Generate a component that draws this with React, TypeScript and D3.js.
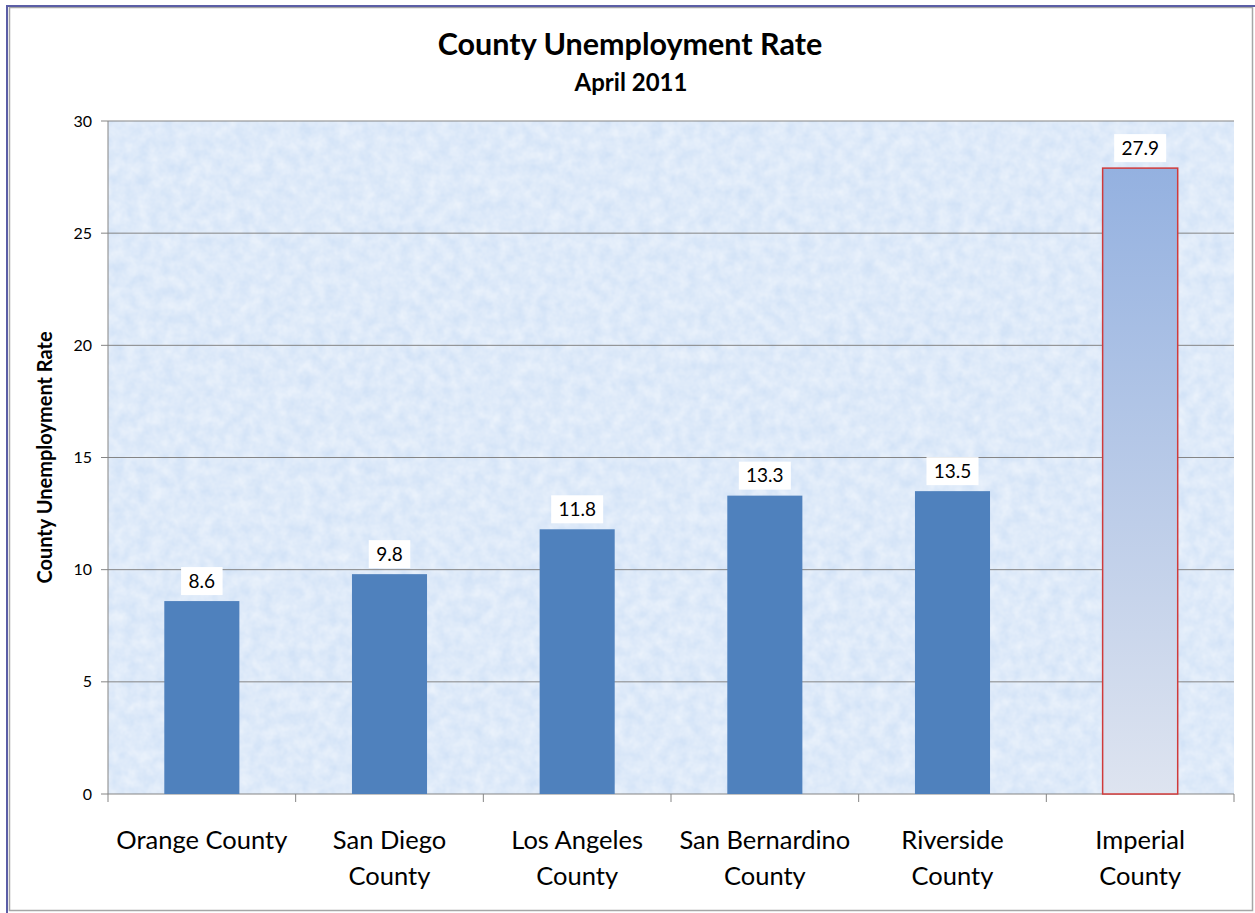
import React from "react";
import * as d3 from "d3";

const categories: string[][] = [
  ["Orange County"],
  ["San Diego", "County"],
  ["Los Angeles", "County"],
  ["San Bernardino", "County"],
  ["Riverside", "County"],
  ["Imperial", "County"],
];
const values: number[] = [8.6, 9.8, 11.8, 13.3, 13.5, 27.9];
const yTicks: number[] = [0, 5, 10, 15, 20, 25, 30];
const title = "County Unemployment Rate";
const subtitle = "April 2011";
const yTitle = "County Unemployment Rate";

const W = 1255;
const H = 913;
const plot = { left: 108, right: 1234, top: 121, bottom: 794 };
const FONT = "Lato, 'Open Sans', sans-serif";

export default function App() {
  const x = d3
    .scaleBand<number>()
    .domain(values.map((_, i) => i))
    .range([plot.left, plot.right])
    .paddingInner(0.6)
    .paddingOuter(0.3);
  const band = (plot.right - plot.left) / values.length;
  const y = d3.scaleLinear().domain([0, 30]).range([plot.bottom, plot.top]);
  const last = values.length - 1;

  return (
    <svg
      width={W}
      height={H}
      style={{ position: "absolute", left: 0, top: 0, background: "#fff" }}
    >
      <defs>
        <linearGradient id="imp" x1="0" y1="0" x2="0" y2="1">
          <stop offset="0" stopColor="#94B1E0" />
          <stop offset="1" stopColor="#DEE4F0" />
        </linearGradient>
        <filter id="tex" x="0" y="0" width="100%" height="100%">
          <feTurbulence type="fractalNoise" baseFrequency="0.08" numOctaves="3" seed="3" />
          <feColorMatrix
            type="matrix"
            values="0 0 0 0 1  0 0 0 0 1  0 0 0 0 1  0 0 0 0.7 -0.1"
          />
          <feComposite in2="SourceGraphic" operator="in" />
        </filter>
      </defs>

      {/* frame */}
      <rect x={9.5} y={7.5} width={1243} height={903} fill="#fff" stroke="#A6A6A6" strokeWidth={1.5} />
      <line x1={6} y1={6} x2={W} y2={6} stroke="#5B5EA6" strokeWidth={2} />
      <line x1={7} y1={6} x2={7} y2={H} stroke="#5B5EA6" strokeWidth={2} />

      {/* title */}
      <text x={630} y={55} textAnchor="middle" fontFamily={FONT} fontWeight="bold" fontSize={30.5} fill="#000">
        {title}
      </text>
      <text x={631} y={91} textAnchor="middle" fontFamily={FONT} fontWeight="bold" fontSize={24} fill="#000">
        {subtitle}
      </text>

      {/* plot background */}
      <rect x={plot.left} y={plot.top} width={plot.right - plot.left} height={plot.bottom - plot.top} fill="#D3E3F7" />
      <rect
        x={plot.left}
        y={plot.top}
        width={plot.right - plot.left}
        height={plot.bottom - plot.top}
        fill="#D3E3F7"
        filter="url(#tex)"
      />

      {/* gridlines */}
      {yTicks.map((t) => (
        <line
          key={"g" + t}
          x1={plot.left - 7}
          x2={plot.right}
          y1={y(t)}
          y2={y(t)}
          stroke="#858585"
          strokeWidth={1}
        />
      ))}
      {/* y axis */}
      <line x1={plot.left} x2={plot.left} y1={plot.top} y2={plot.bottom} stroke="#858585" />
      {yTicks.map((t) => (
        <text
          key={"yt" + t}
          x={92}
          y={y(t)}
          dy="0.35em"
          textAnchor="end"
          fontFamily={FONT}
          fontSize={16}
          fill="#000"
        >
          {t}
        </text>
      ))}
      <text
        transform={`translate(52,${(plot.top + plot.bottom) / 2}) rotate(-90)`}
        textAnchor="middle"
        fontFamily={FONT}
        fontWeight="bold"
        fontSize={20}
        fill="#000"
      >
        {yTitle}
      </text>

      {/* x ticks */}
      {d3.range(values.length + 1).map((i) => (
        <line
          key={"xt" + i}
          x1={plot.left + i * band}
          x2={plot.left + i * band}
          y1={plot.bottom}
          y2={plot.bottom + 8}
          stroke="#858585"
        />
      ))}

      {/* bars */}
      {values.map((v, i) => {
        const bx = x(i)!;
        const bw = x.bandwidth();
        const isLast = i === last;
        return (
          <rect
            key={"b" + i}
            x={bx}
            y={y(v)}
            width={bw}
            height={y(0) - y(v)}
            fill={isLast ? "url(#imp)" : "#4F81BD"}
            stroke={isLast ? "#D03A3A" : "none"}
            strokeWidth={isLast ? 1.5 : 0}
          />
        );
      })}

      {/* value labels */}
      {values.map((v, i) => {
        const cx = x(i)! + x.bandwidth() / 2;
        const cy = y(v) - 20;
        const label = v.toFixed(1);
        const bw = label.length * 10.5 + 10;
        return (
          <g key={"l" + i}>
            <rect x={cx - bw / 2} y={cy - 14} width={bw} height={28} fill="#fff" />
            <text x={cx} y={cy} dy="0.36em" textAnchor="middle" fontFamily={FONT} fontSize={19} fill="#000">
              {label}
            </text>
          </g>
        );
      })}

      {/* category labels */}
      {categories.map((lines, i) => {
        const cx = plot.left + (i + 0.5) * band;
        return (
          <text key={"c" + i} textAnchor="middle" fontFamily={FONT} fontSize={25.5} fill="#000">
            {lines.map((ln, j) => (
              <tspan key={j} x={cx} y={849 + j * 36}>
                {ln}
              </tspan>
            ))}
          </text>
        );
      })}
    </svg>
  );
}
